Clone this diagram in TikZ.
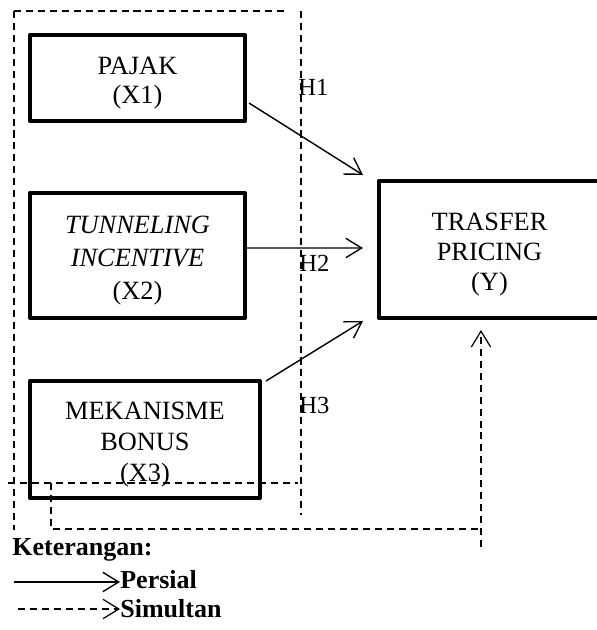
\documentclass[tikz,border=0pt]{standalone}
\usepackage{fontspec}
\setmainfont{Liberation Serif}
\usetikzlibrary{arrows.meta}
\newcommand{\atas}{\rule{0pt}{15.7pt}}

\begin{document}
\begin{tikzpicture}[x=0.02cm, y=-0.02cm,
  kotak/.style={draw, line width=2.4pt, line join=round, outer sep=0pt, inner sep=0pt,
    align=center, font=\fontsize{15}{17}\selectfont},
  panah/.style={-{Straight Barb[length=9pt,width=11pt]}},
  persial/.style={line width=0.8pt, panah},
  simultan/.style={line width=0.7pt, dash pattern=on 4pt off 2.8pt},
  hipotesis/.style={anchor=base west, inner sep=0pt, font=\fontsize{14}{16}\selectfont},
  ket/.style={anchor=base west, inner sep=0pt, font=\fontsize{14.8}{16}\selectfont\bfseries}]
  \useasboundingbox (0,0) rectangle (597,630);

  % Bingkai putus-putus
  \draw[simultan] (14,11) -- (14,530);
  \draw[simultan] (14,11) -- (284,11);
  \draw[simultan] (301,11) -- (301,515);
  \draw[simultan] (8,483) -- (298,483);

  % Kotak variabel
  \node[kotak, minimum width=4.3cm, minimum height=1.72cm] (pajak) at (137.5,78) {\atas PAJAK\\(X1)};
  \node[kotak, minimum width=4.3cm, minimum height=2.5cm, font=\fontsize{15}{18.7}\selectfont] (tunneling) at (137.5,255.5) {\atas\textit{TUNNELING}\\\textit{INCENTIVE}\\(X2)};
  \node[kotak, minimum width=4.6cm, minimum height=2.34cm, font=\fontsize{15}{17.5}\selectfont] (mekanisme) at (145,439.5) {\atas MEKANISME\\BONUS\\(X3)};
  \node[kotak, minimum width=4.42cm, minimum height=2.74cm] (trasfer) at (489.5,249.5) {\atas TRASFER\\PRICING\\(Y)};

  % Panah persial
  \draw[persial] ([xshift=0.08cm,yshift=-0.5cm]pajak.east) -- ([xshift=-0.32cm,yshift=0.12cm]trasfer.north west);
  \draw[persial] ([xshift=0.04cm,yshift=0.15cm]tunneling.east) -- ([xshift=-0.32cm,yshift=0.03cm]trasfer.west);
  \draw[persial] ([xshift=0.12cm]mekanisme.north east) -- ([xshift=-0.32cm,yshift=-0.06cm]trasfer.south west);

  % Label hipotesis
  \node[hipotesis] (h1) at (298,95) {H1};
  \node[hipotesis] (h2) at (299,271) {H2};
  \node[hipotesis] (h3) at (299,413) {H3};

  % Panah simultan
  \coordinate (simA) at (51,483);
  \coordinate (simB) at (481,529);
  \coordinate (simC) at (481,547);
  \coordinate (simY) at (481,330);
  \draw[simultan] (simA) |- (simB);
  \draw[simultan, panah] (simC) -- (simY);

  % Keterangan
  \node[ket] (keterangan) at (12,555) {Keterangan:};
  \node[ket] (lbpersial) at (120,588) {Persial};
  \node[ket] (lbsimultan) at (120,617) {Simultan};
  \coordinate (kp) at (14,582);
  \coordinate (ks) at (18,609);
  \draw[persial] (kp) -- (kp -| lbpersial.west);
  \draw[simultan, panah] (ks) -- (ks -| lbsimultan.west);
\end{tikzpicture}
\end{document}
